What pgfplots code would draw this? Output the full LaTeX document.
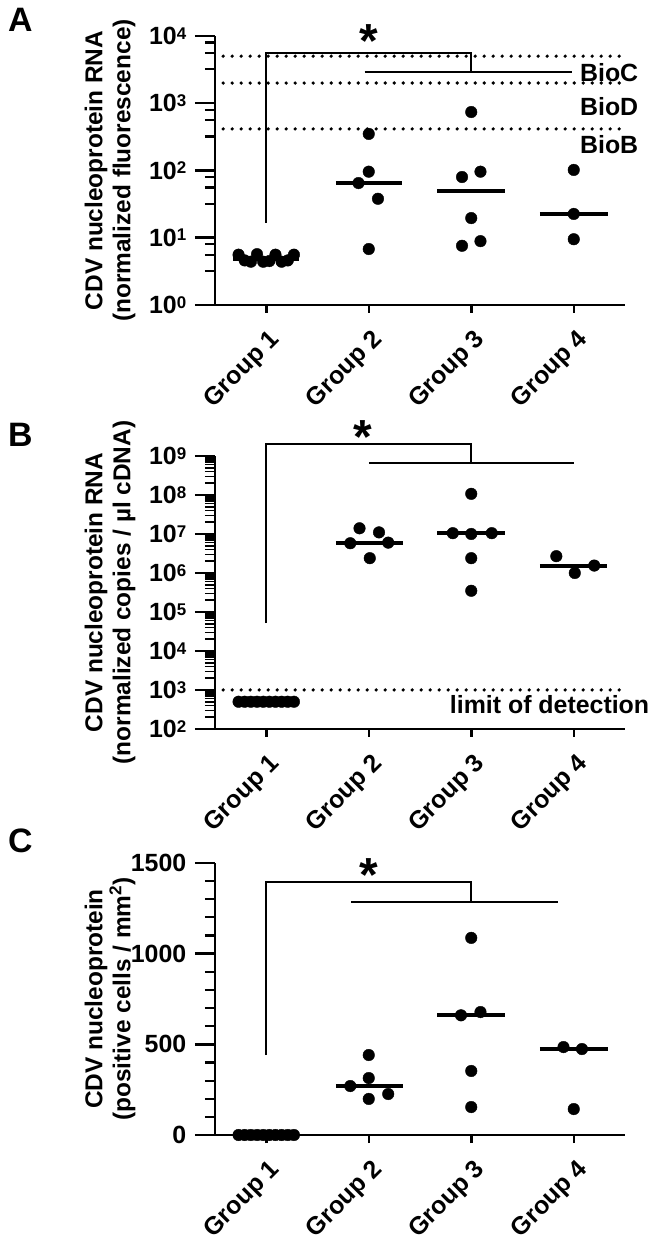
\documentclass[border=0pt]{standalone}
\usepackage{fontspec}
\setmainfont{Liberation Sans}
\usepackage{pgfplots}
\pgfplotsset{compat=1.18}

\newcommand{\E}[1]{10\raisebox{5.5bp}{\fontsize{17}{17}\selectfont #1}}

\pgfplotsset{
  panel/.style={
    scale only axis, width=410bp,
    xmin=0.5, xmax=4.5,
    axis lines=left, axis line style={-, line width=2.5bp},
    tick align=outside,
    xtick style={/pgfplots/major tick length=8bp, black},
    ytick style={/pgfplots/major tick length=20bp, /pgfplots/minor tick length=10bp, black},
    major tick style={line width=2.5bp},
    minor tick style={line width=2.2bp},
    xtick={1,2,3,4}, xticklabels={Group 1,Group 2,Group 3,Group 4},
    xticklabel style={yshift=-14bp, xshift=2bp, rotate=45, anchor=north east, font=\fontsize{25}{29}\selectfont\bfseries},
    yticklabel style={xshift=-21bp, font=\fontsize{25}{29}\selectfont\bfseries},
    ylabel style={at={(axis description cs:0,0.5)}, anchor=center, yshift=105bp,
      align=center, font=\fontsize{24.5}{28}\selectfont\bfseries},
    clip=false,
  },
  dots/.style={only marks, mark=*, mark size=5.8bp, black},
  med/.style={no marks, black, line width=4bp},
  brk/.style={no marks, black, line width=2bp},
  lod/.style={no marks, black, line width=3.6bp, line cap=round, dash pattern=on 0bp off 9bp},
}
\tikzset{
  lbl/.style={anchor=base west, font=\fontsize{25}{29}\selectfont\bfseries, inner sep=0pt},
  star/.style={anchor=base, font=\fontsize{48}{48}\selectfont\bfseries, inner sep=0pt},
}

\begin{document}
\begin{tikzpicture}
\useasboundingbox (0,0) rectangle (655bp,1235bp);

% ---------- A ----------
\begin{axis}[panel, at={(215bp,930bp)}, anchor=south west, height=269bp,
  ymode=log, ymin=1, ymax=10000,
  ytick={1,10,100,1000,10000}, yticklabels={\E{0},\E{1},\E{2},\E{3},\E{4}},
  minor ytick={3.2,5.6,8,32,56,80,320,560,800,3200,5600,8000},
  ylabel={CDV nucleoprotein RNA\\(normalized fluorescence)}]
\addplot[lod] coordinates {(0.58,5000) (4.5,5000)};
\addplot[lod] coordinates {(0.58,2000) (4.5,2000)};
\addplot[lod] coordinates {(0.58,415) (4.5,415)};
\addplot[brk] coordinates {(1,16.6) (1,5600) (3,5600) (3,2900)};
\addplot[brk] coordinates {(1.96,2900) (3.98,2900)};
\addplot[med] coordinates {(0.68,4.8) (1.32,4.8)};
\addplot[med] coordinates {(1.68,65) (2.32,65)};
\addplot[med] coordinates {(2.67,50) (3.33,50)};
\addplot[med] coordinates {(3.67,22.6) (4.33,22.6)};
\addplot[dots] coordinates {(0.73,5.6) (0.79,4.6) (0.85,4.4) (0.91,5.7) (0.97,4.4)
  (1.03,4.5) (1.09,5.6) (1.15,4.4) (1.21,4.6) (1.27,5.6)};
\addplot[dots] coordinates {(2,350) (2,96) (1.9,65) (2.09,38) (2,6.8)};
\addplot[dots] coordinates {(3,740) (2.91,80) (3.09,96) (3,19.6) (2.91,7.6) (3.09,8.9)};
\addplot[dots] coordinates {(4,102) (4,22.6) (4,9.5)};
\node[lbl] at (axis cs:4.06,2070) {BioC};
\node[lbl] at (axis cs:4.06,668) {BioD};
\node[lbl] at (axis cs:4.06,182) {BioB};
\node[star] at (axis cs:2,4870) {*};
\end{axis}

% ---------- B ----------
\begin{axis}[panel, at={(215bp,506bp)}, anchor=south west, height=273bp,
  ymode=log, ymin=100, ymax=1e9,
  minor tick style={line width=1.6bp},
  ytick={1e2,1e3,1e4,1e5,1e6,1e7,1e8,1e9},
  yticklabels={\E{2},\E{3},\E{4},\E{5},\E{6},\E{7},\E{8},\E{9}},
  minor ytick={2e2,3e2,4e2,5e2,6e2,7e2,8e2,9e2,2e3,3e3,4e3,5e3,6e3,7e3,8e3,9e3,
    2e4,3e4,4e4,5e4,6e4,7e4,8e4,9e4,2e5,3e5,4e5,5e5,6e5,7e5,8e5,9e5,
    2e6,3e6,4e6,5e6,6e6,7e6,8e6,9e6,2e7,3e7,4e7,5e7,6e7,7e7,8e7,9e7,
    2e8,3e8,4e8,5e8,6e8,7e8,8e8,9e8},
  ylabel={CDV nucleoprotein RNA\\(normalized copies / µl cDNA)}]
\addplot[lod] coordinates {(0.58,1000) (4.53,1000)};
\addplot[brk] coordinates {(1,5.2e4) (1,2.0e9) (3,2.0e9) (3,6.6e8)};
\addplot[brk] coordinates {(2,6.6e8) (4,6.6e8)};
\addplot[med] coordinates {(0.68,500) (1.32,500)};
\addplot[med] coordinates {(1.68,6.0e6) (2.33,6.0e6)};
\addplot[med] coordinates {(2.67,1.03e7) (3.33,1.03e7)};
\addplot[med] coordinates {(3.67,1.55e6) (4.32,1.55e6)};
\addplot[dots] coordinates {(0.73,500) (0.79,500) (0.85,500) (0.91,500) (0.97,500)
  (1.03,500) (1.09,500) (1.15,500) (1.21,500) (1.27,500)};
\addplot[dots] coordinates {(1.91,1.4e7) (2.1,1.1e7) (1.82,5.8e6) (2.19,6.0e6) (2.01,2.4e6)};
\addplot[dots] coordinates {(3,1.07e8) (2.82,1.05e7) (3,1.0e7) (3.2,1.05e7) (3,2.4e6) (3,3.5e5)};
\addplot[dots] coordinates {(3.83,2.7e6) (4.01,1.0e6) (4.2,1.55e6)};
\node[lbl] at (axis cs:2.79,257) {limit of detection};
\node[star] at (axis cs:1.94,1.13e9) {*};
\end{axis}

% ---------- C ----------
\begin{axis}[panel, at={(215bp,100bp)}, anchor=south west, height=272bp,
  ymin=0, ymax=1500,
  ytick={0,500,1000,1500}, yticklabels={0,500,1000,1500},
  minor y tick num=4,
  ylabel={CDV nucleoprotein\\(positive cells / mm\textsuperscript{2})}]
\addplot[brk] coordinates {(1,441) (1,1395) (3,1395) (3,1285)};
\addplot[brk] coordinates {(1.83,1285) (3.85,1285)};
\addplot[med] coordinates {(0.68,0) (1.32,0)};
\addplot[med] coordinates {(1.68,270) (2.33,270)};
\addplot[med] coordinates {(2.67,660) (3.33,660)};
\addplot[med] coordinates {(3.67,474) (4.33,474)};
\addplot[dots] coordinates {(0.73,0) (0.79,0) (0.85,0) (0.91,0) (0.97,0)
  (1.03,0) (1.09,0) (1.15,0) (1.21,0) (1.27,0)};
\addplot[dots] coordinates {(2,441) (2,314) (1.82,270) (2.19,226) (2,199)};
\addplot[dots] coordinates {(3,1087) (2.9,660) (3.09,678) (3,353) (3,154)};
\addplot[dots] coordinates {(3.9,485) (4.08,474) (4,143)};
\node[star] at (axis cs:2,1345) {*};
\end{axis}

\node[anchor=base west, inner sep=0pt, font=\fontsize{34}{34}\selectfont\bfseries] at (8bp,1203bp) {A};
\node[anchor=base west, inner sep=0pt, font=\fontsize{34}{34}\selectfont\bfseries] at (8bp,788bp) {B};
\node[anchor=base west, inner sep=0pt, font=\fontsize{34}{34}\selectfont\bfseries] at (8bp,382bp) {C};
\end{tikzpicture}
\end{document}
